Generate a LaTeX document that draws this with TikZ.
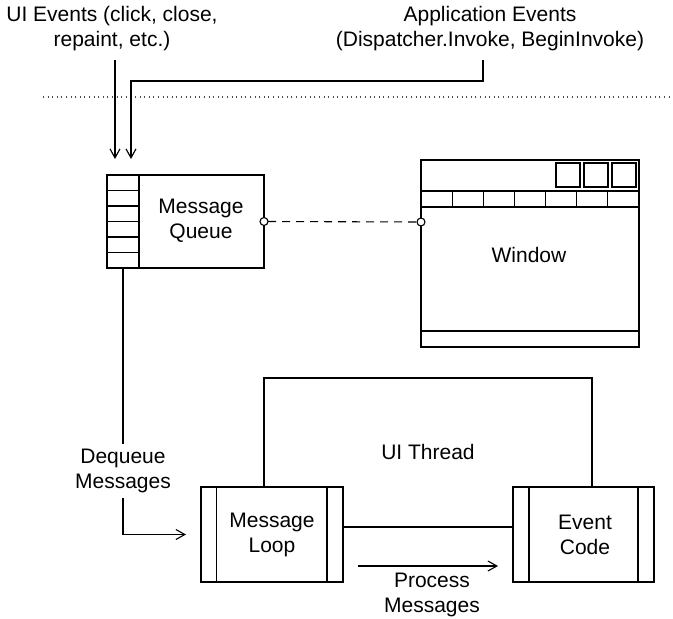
\documentclass[tikz,border=0pt]{standalone}
\usepackage{fontspec}
\setmainfont{Liberation Sans}
\usetikzlibrary{arrows.meta,calc}
\begin{document}
\begin{tikzpicture}[x=1pt,y=-1pt,
  every node/.style={font=\fontsize{21}{25}\selectfont, align=center, inner sep=0pt, outer sep=0pt},
  ln/.style={line width=1.1pt, draw=black},
  arr/.style={ln, -{Straight Barb[length=9pt,width=10pt,line width=1.1pt]}},
  boxn/.style={draw, line width=1.1pt, rectangle, anchor=north west, inner sep=0pt, outer sep=0pt},
  dots/.style={line width=1.1pt, draw=black!70, dash pattern=on 1pt off 3.6pt},
  dsh/.style={ln, dash pattern=on 8pt off 6pt},
  port/.style={circle, draw, line width=1.1pt, fill=white, minimum size=8pt, inner sep=0pt}
]
\useasboundingbox (0,0) rectangle (673,619);

% top labels
\node (uit) at (112,29) {UI Events (click, close,\\repaint, etc.)};
\node (apt) at (490,29) {Application Events\\(Dispatcher.Invoke, BeginInvoke)};

% separator
\coordinate (dl) at (43,97);
\coordinate (dr) at (673,97);
\draw[dots] (dl) -- (dr);

% message queue
\node[boxn, minimum width=157pt, minimum height=93pt] (q) at (107,175) {};
\draw[ln] ($(q.north west)+(32,0)$) -- ($(q.south west)+(32,0)$);
\foreach \i in {1,...,5} {
  \draw[ln] ($(q.north west)+(0,\i*15.5)$) -- ++(32,0);
}
\node at (201,221) {Message\\Queue};

% window
\node[boxn, minimum width=218pt, minimum height=187pt] (w) at (421,160) {};
\draw[ln] ($(w.north west)+(0,31)$) -- ++(218,0);
\draw[ln] ($(w.north west)+(0,47)$) -- ++(218,0);
\draw[ln] ($(w.north west)+(0,171)$) -- ++(218,0);
\foreach \i in {1,...,6} {
  \draw[ln] ($(w.north west)+(\i*31.14,31)$) -- ++(0,16);
}
\foreach \bx in {135,163,191} {
  \draw[ln] ($(w.north west)+(\bx,3)$) rectangle ++(24,24);
}
\node at (529,255) {Window};

% ports and dashed link
\node[port] (p1) at (q.east) {};
\node[port] (p2) at ($(w.north west)+(0,62)$) {};
\draw[dsh] (p1) -- (p2);

% incoming event arrows
\coordinate (us) at (115,60);
\coordinate (ue) at (115,159);
\draw[arr] (us) -- (ue);
\coordinate (as) at (483,60);
\coordinate (ae) at (131,159);
\draw[arr] (as) -- ++(0,21) -| (ae);

% message loop and event code
\node[boxn, minimum width=142pt, minimum height=95pt] (ml) at (201,487) {};
\draw[ln] ($(ml.north west)+(15.5,0)$) -- ++(0,95);
\draw[ln] ($(ml.north west)+(126,0)$) -- ++(0,95);
\node at (272,535) {Message\\Loop};

\node[boxn, minimum width=141pt, minimum height=95pt] (ec) at (513,487) {};
\draw[ln] ($(ec.north west)+(16,0)$) -- ++(0,95);
\draw[ln] ($(ec.north west)+(125,0)$) -- ++(0,95);
\node at (585,535) {Event\\Code};

% UI thread frame
\coordinate (tt) at (428,378);
\draw[ln] ($(ml.north west)+(63,0)$) |- (tt) -| ($(ec.north west)+(79,0)$);
\node at (428,452) {UI Thread};

% link between loop and code
\draw[ln] (ml.east |- 0,527) -- (ec.west |- 0,527);

% process messages
\coordinate (ps) at (358,566);
\coordinate (pe) at (498,566);
\draw[arr] (ps) -- (pe);
\node at (432,595) {Process\\Messages};

% dequeue
\node[inner ysep=5pt] (deq) at (123,471) {Dequeue\\Messages};
\draw[ln] ($(q.south west)+(16,0)$) -- (deq.north);
\draw[arr, shorten >=15pt] (deq.south) |- (ml.west);
\end{tikzpicture}
\end{document}
